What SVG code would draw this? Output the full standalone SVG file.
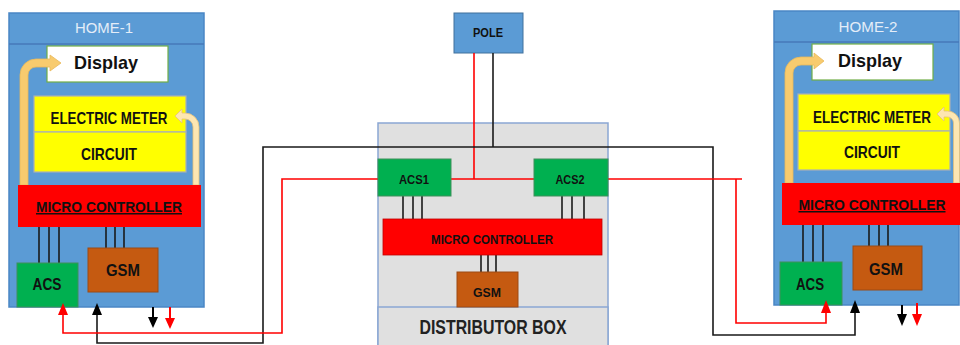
<svg xmlns="http://www.w3.org/2000/svg" width="960" height="345" viewBox="0 0 960 345">
<style>
text{font-family:"Liberation Sans",Arial,sans-serif;text-anchor:middle;}
.home{fill:#5b9bd5;stroke:#4a86c5;stroke-width:1.5}
.hdr{stroke:#4679b8;stroke-width:1.5}
.title{fill:#e4edf8;font-size:15px}
.disp{fill:#ffffff;stroke:#70ad47;stroke-width:1.2}
.dtxt{fill:#111;font-size:19px;font-weight:bold}
.yel{fill:#ffff00;stroke:#a9b0b8;stroke-width:1.2}
.ytxt{fill:#111;font-size:16.5px;font-weight:bold}
.mc{fill:#ff0000}
.mctxt{fill:#111;font-size:15px;font-weight:bold;text-decoration:underline}
.acs{fill:#00b050;stroke:#3f8f5a;stroke-width:1}
.gsm{fill:#c55a11;stroke:#9c4a14;stroke-width:1}
.btxt{fill:#111;font-size:16px;font-weight:bold}
.stxt{fill:#111;font-size:13px;font-weight:bold}
.bus{stroke:#1a1a1a;stroke-width:1.6}
.arrL{fill:#f8cb6e;stroke:#e9b95a;stroke-width:0.8}
.arrR{fill:#fde6b2;stroke:#e6c27a;stroke-width:0.8}
.dist{fill:#e0e0e0;stroke:#8ba7d3;stroke-width:1.5}
.wr{fill:none;stroke:#ff0000;stroke-width:1.6}
.wb{fill:none;stroke:#1a1a1a;stroke-width:1.6}
.ar{fill:none;stroke:#ff0000;stroke-width:2}
.ab{fill:none;stroke:#000;stroke-width:2}
</style>

<g id="home1">
  <rect class="home" x="9" y="13" width="195" height="294"/>
  <line class="hdr" x1="9" y1="44" x2="204" y2="44"/>
  <text class="title" x="104" y="33" textLength="58" lengthAdjust="spacingAndGlyphs">HOME-1</text>
  <g id="home1-display">
    <rect class="disp" x="47" y="46" width="121" height="36"/>
    <text class="dtxt" x="106" y="69" textLength="64" lengthAdjust="spacingAndGlyphs">Display</text>
  </g>
  <g id="home1-meter">
    <rect class="yel" x="34" y="96" width="152" height="36"/>
    <text class="ytxt" x="109" y="124" textLength="117" lengthAdjust="spacingAndGlyphs">ELECTRIC METER</text>
  </g>
  <g id="home1-circuit">
    <rect class="yel" x="34" y="132" width="152" height="40"/>
    <text class="ytxt" x="109" y="160" textLength="56" lengthAdjust="spacingAndGlyphs">CIRCUIT</text>
  </g>
  <path class="arrL" d="M20,185 L20,75 A16,16 0 0 1 36,59 L50,59 L50,55 L61,63 L50,71 L50,67 L36,67 A8,8 0 0 0 28,75 L28,185 Z"/>
  <path class="arrR" d="M199,185 L199,127 A14,14 0 0 0 185,113 L182,113 L182,109 L175,116 L182,123 L182,119 L185,119 A8,8 0 0 1 193,127 L193,185 Z"/>
  <g id="home1-mc">
    <rect class="mc" x="18" y="185" width="183" height="42"/>
    <text class="mctxt" x="109" y="212" textLength="146" lengthAdjust="spacingAndGlyphs">MICRO CONTROLLER</text>
  </g>
  <line class="bus" x1="39" y1="227" x2="39" y2="263"/>
  <line class="bus" x1="49" y1="227" x2="49" y2="263"/>
  <line class="bus" x1="59" y1="227" x2="59" y2="263"/>
  <line class="bus" x1="106" y1="227" x2="106" y2="248"/>
  <line class="bus" x1="115" y1="227" x2="115" y2="248"/>
  <line class="bus" x1="124" y1="227" x2="124" y2="248"/>
  <g id="home1-acs">
    <rect class="acs" x="17" y="263" width="61" height="44"/>
    <text class="btxt" x="47" y="290" textLength="29" lengthAdjust="spacingAndGlyphs">ACS</text>
  </g>
  <g id="home1-gsm">
    <rect class="gsm" x="88" y="248" width="70" height="44"/>
    <text class="btxt" x="123" y="276" textLength="34" lengthAdjust="spacingAndGlyphs">GSM</text>
  </g>
</g>

<g id="home2">
  <rect class="home" x="774" y="11" width="185" height="294"/>
  <line class="hdr" x1="774" y1="42" x2="959" y2="42"/>
  <text class="title" x="868" y="32" textLength="59" lengthAdjust="spacingAndGlyphs">HOME-2</text>
  <g id="home2-display">
    <rect class="disp" x="812" y="44" width="121" height="36"/>
    <text class="dtxt" x="870" y="67" textLength="64" lengthAdjust="spacingAndGlyphs">Display</text>
  </g>
  <g id="home2-meter">
    <rect class="yel" x="798" y="94" width="152" height="37"/>
    <text class="ytxt" x="872" y="123" textLength="118" lengthAdjust="spacingAndGlyphs">ELECTRIC METER</text>
  </g>
  <g id="home2-circuit">
    <rect class="yel" x="798" y="131" width="152" height="39"/>
    <text class="ytxt" x="872" y="158" textLength="56" lengthAdjust="spacingAndGlyphs">CIRCUIT</text>
  </g>
  <path class="arrL" d="M785,183 L785,73 A16,16 0 0 1 801,57 L814,57 L814,53 L824,61 L814,69 L814,65 L801,65 A8,8 0 0 0 793,73 L793,183 Z"/>
  <path class="arrR" d="M959.5,183 L959.5,123 A12,12 0 0 0 947.5,111 L944,111 L944,107 L937,114 L944,121 L944,117 L947.5,117 A6,6 0 0 1 953.5,123 L953.5,183 Z"/>
  <g id="home2-mc">
    <rect class="mc" x="782" y="183" width="178" height="42"/>
    <text class="mctxt" x="872" y="210" textLength="147" lengthAdjust="spacingAndGlyphs">MICRO CONTROLLER</text>
  </g>
  <line class="bus" x1="803" y1="225" x2="803" y2="262"/>
  <line class="bus" x1="813" y1="225" x2="813" y2="262"/>
  <line class="bus" x1="823" y1="225" x2="823" y2="262"/>
  <line class="bus" x1="869" y1="225" x2="869" y2="246"/>
  <line class="bus" x1="879" y1="225" x2="879" y2="246"/>
  <line class="bus" x1="888" y1="225" x2="888" y2="246"/>
  <g id="home2-acs">
    <rect class="acs" x="780" y="262" width="62" height="43"/>
    <text class="btxt" x="810" y="290" textLength="28" lengthAdjust="spacingAndGlyphs">ACS</text>
  </g>
  <g id="home2-gsm">
    <rect class="gsm" x="853" y="246" width="69" height="44"/>
    <text class="btxt" x="886" y="275" textLength="34" lengthAdjust="spacingAndGlyphs">GSM</text>
  </g>
</g>

<g id="pole">
  <rect x="454" y="13" width="69" height="40" fill="#5b9bd5" stroke="#41719c" stroke-width="1"/>
  <text class="stxt" x="488" y="37" textLength="30" lengthAdjust="spacingAndGlyphs">POLE</text>
</g>

<g id="distributor">
  <rect class="dist" x="378" y="123" width="230" height="230"/>
  <g id="dist-label">
    <rect class="dist" x="378" y="307" width="230" height="46"/>
    <text x="493" y="334" fill="#222" font-size="19.5" font-weight="bold" textLength="147" lengthAdjust="spacingAndGlyphs">DISTRIBUTOR BOX</text>
  </g>
</g>

<g id="connectors">
  <polyline class="wr" points="474,53 474,179"/>
  <polyline class="wb" points="493,53 493,147"/>
  <polyline class="wb" points="97,315 97,343 263,343 263,147 713,147 713,335 855,335 855,312"/>
  <polyline class="wr" points="63,315 63,333 282,333 282,179 378,179"/>
  <polyline class="wr" points="451,179 534,179"/>
  <polyline class="wr" points="608,179 742,179"/>
  <polyline class="wr" points="736,179 736,323 826,323 826,312"/>
  <line class="bus" x1="403" y1="196" x2="403" y2="219"/>
  <line class="bus" x1="413" y1="196" x2="413" y2="219"/>
  <line class="bus" x1="422" y1="196" x2="422" y2="219"/>
  <line class="bus" x1="562" y1="196" x2="562" y2="219"/>
  <line class="bus" x1="572" y1="196" x2="572" y2="219"/>
  <line class="bus" x1="584" y1="196" x2="584" y2="219"/>
  <line class="bus" x1="481" y1="255" x2="481" y2="272"/>
  <line class="bus" x1="488" y1="255" x2="488" y2="272"/>
  <line class="bus" x1="496" y1="255" x2="496" y2="272"/>
  <polygon points="63,303 58,315 68,315" fill="#ff0000"/>
  <polygon points="97,303 92,315 102,315" fill="#000"/>
  <line class="ab" x1="153" y1="307" x2="153" y2="318"/>
  <polygon points="153,328 148,317 158,317" fill="#000"/>
  <line class="ar" x1="170" y1="307" x2="170" y2="319"/>
  <polygon points="170,329 165,318 175,318" fill="#ff0000"/>
  <polygon points="826,300 821,313 831,313" fill="#ff0000"/>
  <polygon points="855,300 850,313 860,313" fill="#000"/>
  <line class="ab" x1="902" y1="305" x2="902" y2="315"/>
  <polygon points="902,326 897,314 907,314" fill="#000"/>
  <line class="ar" x1="917" y1="303" x2="917" y2="315"/>
  <polygon points="917,326 912,314 922,314" fill="#ff0000"/>
</g>

<g id="dist-acs1">
  <rect class="acs" x="378" y="159" width="73" height="37"/>
  <text class="stxt" x="414" y="184" textLength="30" lengthAdjust="spacingAndGlyphs">ACS1</text>
</g>
<g id="dist-acs2">
  <rect class="acs" x="534" y="159" width="74" height="37"/>
  <text class="stxt" x="570" y="184" textLength="29" lengthAdjust="spacingAndGlyphs">ACS2</text>
</g>
<g id="dist-mc">
  <rect class="mc" x="383" y="219" width="219" height="36" stroke="#c00000" stroke-width="0.8"/>
  <text class="stxt" x="492" y="244" fill="#2a0000" textLength="122" lengthAdjust="spacingAndGlyphs">MICRO CONTROLLER</text>
</g>
<g id="dist-gsm">
  <rect class="gsm" x="457" y="272" width="61" height="35"/>
  <text class="stxt" x="487" y="297" textLength="28" lengthAdjust="spacingAndGlyphs">GSM</text>
</g>
</svg>
